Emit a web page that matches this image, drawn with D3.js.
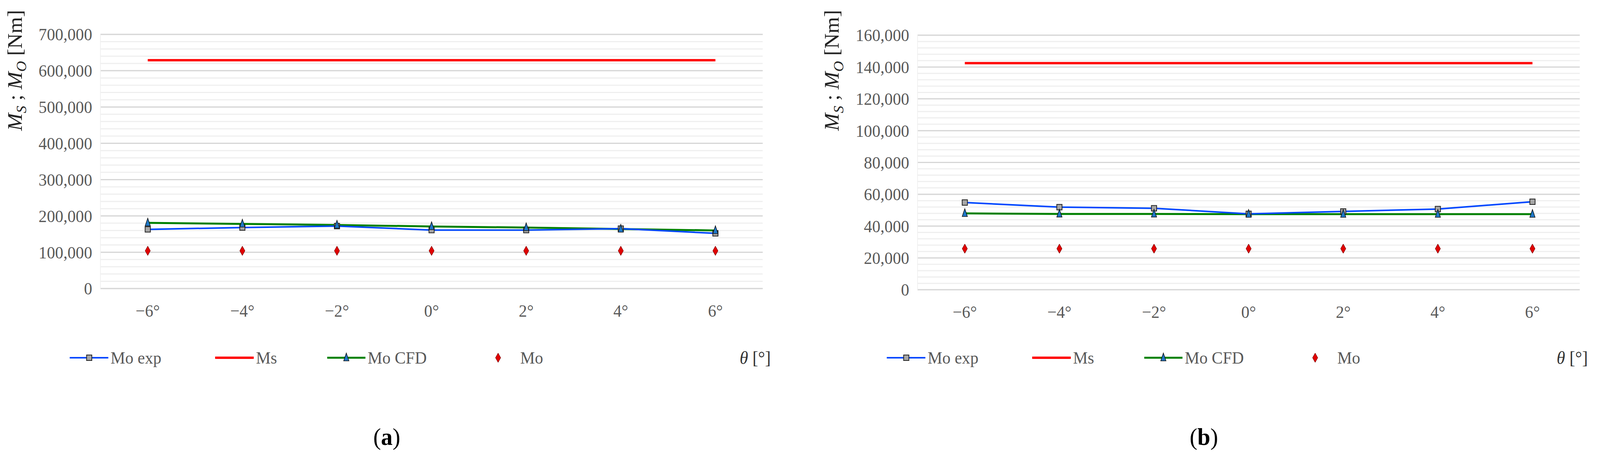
<!DOCTYPE html>
<html><head><meta charset="utf-8">
<script src="https://cdn.jsdelivr.net/npm/d3@7"></script>
<style>html,body{margin:0;padding:0;width:100%;height:100%;overflow:hidden;background:#fff}svg{display:block;width:100vw;height:100vh}</style>
</head><body>
<svg id="c" viewBox="0 0 4269 1174" preserveAspectRatio="none"></svg>
<script>
const categories = ["−6°","−4°","−2°","0°","2°","4°","6°"];
// Panel (a)
const aMoExp = [163000,168000,172000,161000,161000,165000,152000];
const aMs    = [629000,629000,629000,629000,629000,629000,629000];
const aMoCFD = [181000,178000,175000,171000,168000,164000,160000];
const aMo    = [104000,104000,104000,104000,104000,104000,104000];
const aTicks = [0,100000,200000,300000,400000,500000,600000,700000];
// Panel (b)
const bMoExp = [54800,51900,51200,47700,49200,50700,55300];
const bMs    = [142400,142400,142400,142400,142400,142400,142400];
const bMoCFD = [48000,47600,47600,47500,47500,47500,47500];
const bMo    = [25800,25800,25800,25800,25800,25800,25800];
const bTicks = [0,20000,40000,60000,80000,100000,120000,140000,160000];
const legendNames = ["Mo exp","Ms","Mo CFD","Mo"];

const svg = d3.select("#c");
const FONT = "'Liberation Serif', 'DejaVu Serif', serif";

function panel(opt){
  const g = svg.append("g");
  const x = d3.scaleBand().domain(categories).range([opt.left, opt.right]);
  const y = d3.scaleLinear().domain([0, opt.max]).range([opt.bottom, opt.top]);
  const cx = d => x(d) + x.bandwidth()/2;
  const minor = d3.range(0, opt.max + 1e-6, opt.minor);
  g.selectAll(".mn").data(minor).join("line")
    .attr("x1", opt.left).attr("x2", opt.right)
    .attr("y1", d=>y(d)).attr("y2", d=>y(d))
    .attr("stroke", "#efefef").attr("stroke-width", 3);
  g.selectAll(".mj").data(opt.ticks).join("line")
    .attr("x1", opt.left).attr("x2", opt.right)
    .attr("y1", d=>y(d)).attr("y2", d=>y(d))
    .attr("stroke", "#d6d6d6").attr("stroke-width", 3);
  g.append("line").attr("x1",opt.left).attr("x2",opt.left).attr("y1",opt.top).attr("y2",opt.bottom)
    .attr("stroke","#f0f0f0").attr("stroke-width",2);
  const fmt = d3.format(",");
  g.selectAll(".yt").data(opt.ticks).join("text")
    .attr("x", opt.left - 22).attr("y", d=>y(d)).attr("dy","0.35em")
    .attr("text-anchor","end").attr("font-family",FONT).attr("font-size",44)
    .attr("fill","#595959").text(d=>fmt(d));
  g.selectAll(".xt").data(categories).join("text")
    .attr("x", d=>cx(d)).attr("y", opt.bottom + 72)
    .attr("text-anchor","middle").attr("font-family",FONT).attr("font-size",44)
    .attr("fill","#595959").text(d=>d);
  const t = g.append("text").attr("transform",`translate(${opt.titleX},${180}) rotate(-90)`)
    .attr("text-anchor","middle").attr("font-family",FONT).attr("font-size",54).attr("fill","#222");
  t.append("tspan").attr("font-style","italic").text("M");
  t.append("tspan").attr("font-style","italic").attr("font-size",38).attr("dy",12).text("S");
  t.append("tspan").attr("dy",-12).text(" ; ");
  t.append("tspan").attr("font-style","italic").text("M");
  t.append("tspan").attr("font-style","italic").attr("font-size",38).attr("dy",12).text("O");
  t.append("tspan").attr("dy",-12).text(" [Nm]");

  const line = d3.line().x((d,i)=>cx(categories[i])).y(d=>y(d));
  g.append("path").datum(opt.ms).attr("d",line).attr("fill","none").attr("stroke","#ff0000").attr("stroke-width",6);
  g.append("path").datum(opt.cfd).attr("d",line).attr("fill","none").attr("stroke","#008000").attr("stroke-width",5);
  g.append("path").datum(opt.exp).attr("d",line).attr("fill","none").attr("stroke","#0047ff").attr("stroke-width",4);
  const tri = "M0,-12 L7,8 L-7,8 Z";
  const dia = "M0,-12 L7,0 L0,12 L-7,0 Z";
  g.selectAll(".sq").data(opt.exp).join("rect")
    .attr("x",(d,i)=>cx(categories[i])-7).attr("y",d=>y(d)-7).attr("width",14).attr("height",14)
    .attr("fill","#a6a6a6").attr("stroke","#222").attr("stroke-width",2);
  g.selectAll(".tr").data(opt.cfd).join("path")
    .attr("transform",(d,i)=>`translate(${cx(categories[i])},${y(d)})`).attr("d",tri)
    .attr("fill","#1f78c8").attr("stroke","#111").attr("stroke-width",1.5);
  g.selectAll(".di").data(opt.mo).join("path")
    .attr("transform",(d,i)=>`translate(${cx(categories[i])},${y(d)})`).attr("d",dia)
    .attr("fill","#e00000").attr("stroke","#600").attr("stroke-width",1);

  const ly = 915, L = opt.left;
  const lg = g.append("g");
  lg.append("line").attr("x1",L-82).attr("x2",L+21).attr("y1",ly).attr("y2",ly).attr("stroke","#0047ff").attr("stroke-width",4);
  lg.append("rect").attr("x",L-37).attr("y",ly-7).attr("width",14).attr("height",14).attr("fill","#a6a6a6").attr("stroke","#222").attr("stroke-width",2);
  lg.append("line").attr("x1",L+306).attr("x2",L+409).attr("y1",ly).attr("y2",ly).attr("stroke","#ff0000").attr("stroke-width",6);
  lg.append("line").attr("x1",L+605).attr("x2",L+707).attr("y1",ly).attr("y2",ly).attr("stroke","#008000").attr("stroke-width",5);
  lg.append("path").attr("transform",`translate(${L+656},${ly})`).attr("d",tri).attr("fill","#1f78c8").attr("stroke","#111").attr("stroke-width",1.5);
  lg.append("path").attr("transform",`translate(${L+1061},${ly})`).attr("d",dia).attr("fill","#e00000").attr("stroke","#600").attr("stroke-width",1);
  const lx = [L+27, L+415, L+713, L+1120];
  lg.selectAll("text").data(legendNames).join("text")
    .attr("x",(d,i)=>lx[i]).attr("y",ly).attr("dy","0.35em")
    .attr("font-family",FONT).attr("font-size",44).attr("fill","#595959").text(d=>d);
  const th = g.append("text").attr("x",opt.right-20).attr("y",ly).attr("dy","0.35em").attr("text-anchor","middle")
    .attr("font-family",FONT).attr("font-size",46).attr("fill","#333");
  th.append("tspan").attr("font-style","italic").text("θ");
  th.append("tspan").text(" [°]");
  g.append("text").attr("x",opt.labelX).attr("y",1138).attr("text-anchor","middle")
    .attr("font-family",FONT).attr("font-size",62).attr("fill","#000")
    .html(`(<tspan font-weight="bold">${opt.label}</tspan>)`);
}

panel({left:268,right:2035,top:88,bottom:738,max:700000,minor:20000,ticks:aTicks,
  exp:aMoExp,ms:aMs,cfd:aMoCFD,mo:aMo,titleX:58,labelX:1032,label:"a"});
panel({left:2448,right:4215,top:90,bottom:741,max:160000,minor:4000,ticks:bTicks,
  exp:bMoExp,ms:bMs,cfd:bMoCFD,mo:bMo,titleX:2238,labelX:3212,label:"b"});
</script>
</body></html>
